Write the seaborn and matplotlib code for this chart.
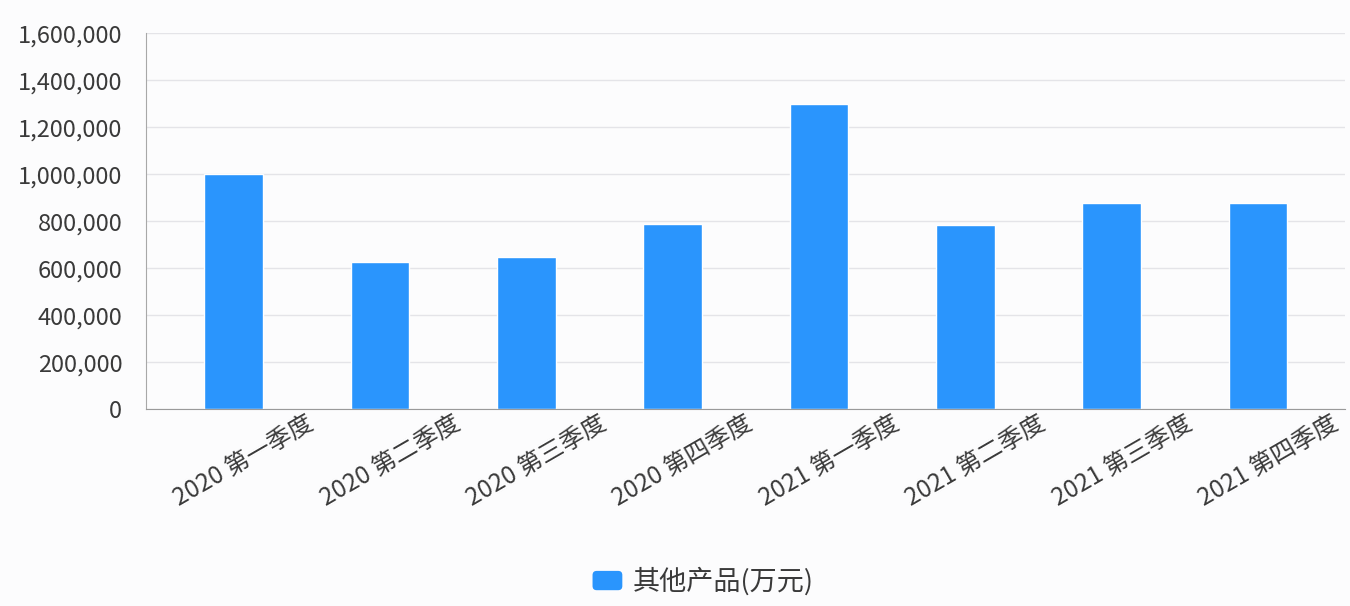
import numpy as np
import pandas as pd
import seaborn as sns
import matplotlib.pyplot as plt
from matplotlib.ticker import FuncFormatter
from matplotlib.patches import FancyBboxPatch, Patch
from matplotlib.legend_handler import HandlerPatch

# data
quarters = ['2020 第一季度', '2020 第二季度', '2020 第三季度', '2020 第四季度',
            '2021 第一季度', '2021 第二季度', '2021 第三季度', '2021 第四季度']
values = [1000000, 628000, 648000, 788000, 1299000, 784000, 877000, 880000]
series_name = '其他产品(万元)'

df = pd.DataFrame({'quarter': quarters, 'value': values})

sns.set_style('white')
plt.rcParams['font.family'] = ['Noto Sans CJK SC', 'DejaVu Sans']

bar_color = '#2a95fd'
text_color = '#3a3a3a'

fig = plt.figure(figsize=(13.5, 6.06), dpi=100, facecolor='#fcfcfd')
ax = fig.add_axes([0.1081, 0.3243, 0.8882, 0.6205])
ax.set_facecolor('#fcfcfd')

sns.barplot(data=df, x='quarter', y='value', color=bar_color, saturation=1,
            width=0.4, ax=ax)

ax.set_ylim(0, 1600000)
ax.set_xlim(-0.6, 7.594)
ax.set_yticks(np.arange(0, 1600001, 200000))
ax.yaxis.set_major_formatter(FuncFormatter(lambda v, p: f'{int(v):,}'))
ax.grid(axis='y', color='#e4e4e8', linewidth=1)
ax.set_axisbelow(True)

# rotated labels sit to the right of each bar, as in the original
ax.set_xticks(np.arange(len(quarters)) + 0.49)
ax.set_xticklabels(quarters, rotation=30, ha='right', va='top',
                   rotation_mode='anchor', fontsize=17.5, color=text_color)
ax.tick_params(axis='x', length=0, pad=1)
ax.tick_params(axis='y', length=0, pad=17, labelsize=17, labelcolor=text_color)

ax.set_xlabel('')
ax.set_ylabel('')
for side in ['top', 'right']:
    ax.spines[side].set_visible(False)
ax.spines['left'].set_color('#a8a8a8')
ax.spines['bottom'].set_color('#9a9a9a')


def rounded_box(legend, orig_handle, xdescent, ydescent, width, height, fontsize):
    return FancyBboxPatch((-xdescent, -ydescent), width, height,
                          boxstyle='round,pad=0,rounding_size=3')


handle = Patch(facecolor=bar_color, edgecolor='none', label=series_name)
leg = fig.legend(handles=[handle], loc='center', bbox_to_anchor=(0.521, 0.04),
                 frameon=False, fontsize=19.5, handlelength=1.1, handleheight=0.72,
                 handletextpad=0.4,
                 handler_map={Patch: HandlerPatch(patch_func=rounded_box)})
for t in leg.get_texts():
    t.set_color(text_color)

fig.savefig('out.png', dpi=100, facecolor=fig.get_facecolor())
